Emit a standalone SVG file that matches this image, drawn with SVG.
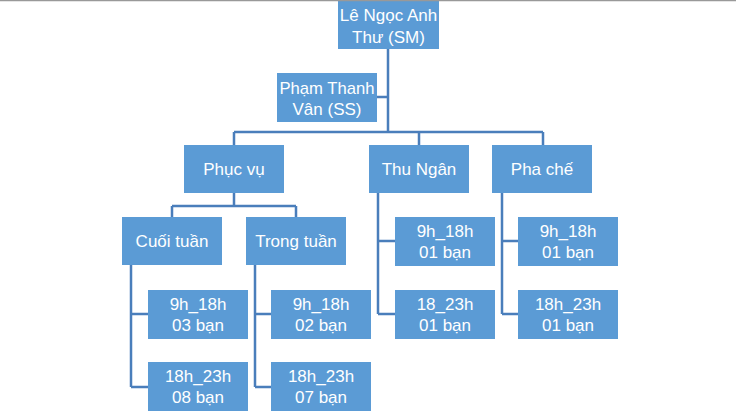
<svg xmlns="http://www.w3.org/2000/svg" width="736" height="411" viewBox="0 0 736 411">
<style>
.box{fill:#5B9BD5}
.t{font-family:"Liberation Sans",Arial,sans-serif;font-size:17px;fill:#FFFFFF;text-anchor:middle}
.c{fill:none;stroke:#4A7EBB;stroke-width:2.5}
</style>
<rect width="736" height="411" fill="#FFFFFF"/>
<g id="connectors">
<path class="c" d="M388 49 V132 M388 97 H377 M234 132 H543 M234 132 V145 M419 132 V145 M543 132 V145"/>
<path class="c" d="M234 193 V206 M172 206 H296 M172 206 V217 M296 206 V217"/>
<path class="c" d="M378 193 V314 M378 241 H395 M378 314 H395"/>
<path class="c" d="M502 193 V314 M502 241 H518 M502 314 H518"/>
<path class="c" d="M131 265 V387 M131 314 H148 M131 387 H148"/>
<path class="c" d="M255 265 V387 M255 314 H271 M255 387 H271"/>
</g>
<g id="sm"><rect class="box" x="338" y="-1" width="101" height="50"/><text class="t" x="388.5" y="21">Lê Ngọc Anh</text><text class="t" x="388.5" y="43">Thư (SM)</text></g>
<g id="ss"><rect class="box" x="277" y="73" width="100" height="49"/><text class="t" x="327" y="94" textLength="95" lengthAdjust="spacingAndGlyphs">Phạm Thanh</text><text class="t" x="327" y="115">Vân (SS)</text></g>
<g id="phucvu"><rect class="box" x="184" y="145" width="100" height="48"/><text class="t" x="234" y="175">Phục vụ</text></g>
<g id="thungan"><rect class="box" x="369" y="145" width="100" height="48"/><text class="t" x="419" y="175">Thu Ngân</text></g>
<g id="phache"><rect class="box" x="492" y="145" width="100" height="48"/><text class="t" x="542" y="175">Pha chế</text></g>
<g id="cuoituan"><rect class="box" x="122" y="217" width="100" height="48"/><text class="t" x="172" y="247">Cuối tuần</text></g>
<g id="trongtuan"><rect class="box" x="246" y="217" width="100" height="48"/><text class="t" x="296" y="247">Trong tuần</text></g>
<g id="tn1"><rect class="box" x="395" y="217" width="100" height="49"/><text class="t" x="445" y="237">9h_18h</text><text class="t" x="445" y="258">01 bạn</text></g>
<g id="tn2"><rect class="box" x="395" y="290" width="100" height="49"/><text class="t" x="445" y="310">18_23h</text><text class="t" x="445" y="331">01 bạn</text></g>
<g id="pc1"><rect class="box" x="518" y="217" width="100" height="49"/><text class="t" x="568" y="237">9h_18h</text><text class="t" x="568" y="258">01 bạn</text></g>
<g id="pc2"><rect class="box" x="518" y="290" width="100" height="49"/><text class="t" x="568" y="310">18h_23h</text><text class="t" x="568" y="331">01 bạn</text></g>
<g id="ct1"><rect class="box" x="148" y="290" width="100" height="49"/><text class="t" x="198" y="310">9h_18h</text><text class="t" x="198" y="331">03 bạn</text></g>
<g id="ct2"><rect class="box" x="148" y="362" width="100" height="49"/><text class="t" x="198" y="382">18h_23h</text><text class="t" x="198" y="403">08 bạn</text></g>
<g id="tt1"><rect class="box" x="271" y="290" width="100" height="49"/><text class="t" x="321" y="310">9h_18h</text><text class="t" x="321" y="331">02 bạn</text></g>
<g id="tt2"><rect class="box" x="271" y="362" width="100" height="49"/><text class="t" x="321" y="382">18h_23h</text><text class="t" x="321" y="403">07 bạn</text></g>
<line x1="0" y1="0.5" x2="736" y2="0.5" stroke="#999999" stroke-width="1.5"/>
</svg>
